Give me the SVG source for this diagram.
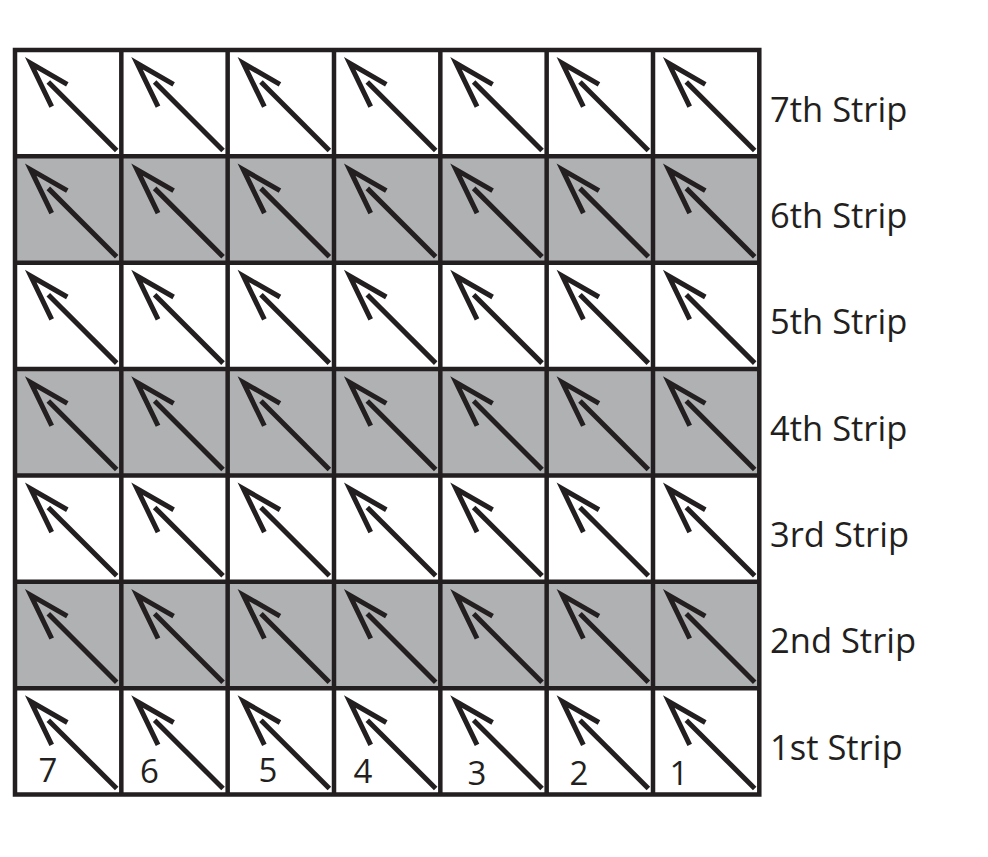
<svg xmlns="http://www.w3.org/2000/svg" xmlns:xlink="http://www.w3.org/1999/xlink" width="988" height="857" viewBox="0 0 988 857">
<style>
.bg{fill:#ffffff}
.gray{fill:#b0b1b3}
.grid{fill:none;stroke:#231f20;stroke-width:4.5}
.arr{fill:none;stroke:#231f20;stroke-width:5;stroke-linecap:butt;stroke-linejoin:miter}
.lbl{font-family:"Open Sans","Noto Sans",sans-serif;font-size:34.5px;fill:#231f20}
.num{font-family:"Open Sans","Noto Sans",sans-serif;font-size:33px;fill:#231f20;text-anchor:middle}
</style>
<defs>
<g id="arrow">
<path class="arr" d="M36.7,56.7 L15.7,13.3 L52.3,34.3"/>
<path class="arr" d="M33.3,32 L101.7,100.4"/>
</g>
</defs>
<rect class="bg" x="0" y="0" width="988" height="857"/>
<g id="fills">
<rect class="gray" x="15" y="156.4" width="744.3" height="106.4"/>
<rect class="gray" x="15" y="369.1" width="744.3" height="106.4"/>
<rect class="gray" x="15" y="581.8" width="744.3" height="106.4"/>
</g>
<g id="strip7">
<use xlink:href="#arrow" href="#arrow" x="15" y="50"/>
<use xlink:href="#arrow" href="#arrow" x="121.33" y="50"/>
<use xlink:href="#arrow" href="#arrow" x="227.66" y="50"/>
<use xlink:href="#arrow" href="#arrow" x="334" y="50"/>
<use xlink:href="#arrow" href="#arrow" x="440.33" y="50"/>
<use xlink:href="#arrow" href="#arrow" x="546.66" y="50"/>
<use xlink:href="#arrow" href="#arrow" x="653" y="50"/>
<text class="lbl" x="770" y="121.7">7th Strip</text>
</g>
<g id="strip6">
<use xlink:href="#arrow" href="#arrow" x="15" y="156.36"/>
<use xlink:href="#arrow" href="#arrow" x="121.33" y="156.36"/>
<use xlink:href="#arrow" href="#arrow" x="227.66" y="156.36"/>
<use xlink:href="#arrow" href="#arrow" x="334" y="156.36"/>
<use xlink:href="#arrow" href="#arrow" x="440.33" y="156.36"/>
<use xlink:href="#arrow" href="#arrow" x="546.66" y="156.36"/>
<use xlink:href="#arrow" href="#arrow" x="653" y="156.36"/>
<text class="lbl" x="770" y="228">6th Strip</text>
</g>
<g id="strip5">
<use xlink:href="#arrow" href="#arrow" x="15" y="262.72"/>
<use xlink:href="#arrow" href="#arrow" x="121.33" y="262.72"/>
<use xlink:href="#arrow" href="#arrow" x="227.66" y="262.72"/>
<use xlink:href="#arrow" href="#arrow" x="334" y="262.72"/>
<use xlink:href="#arrow" href="#arrow" x="440.33" y="262.72"/>
<use xlink:href="#arrow" href="#arrow" x="546.66" y="262.72"/>
<use xlink:href="#arrow" href="#arrow" x="653" y="262.72"/>
<text class="lbl" x="770" y="334.3">5th Strip</text>
</g>
<g id="strip4">
<use xlink:href="#arrow" href="#arrow" x="15" y="369.08"/>
<use xlink:href="#arrow" href="#arrow" x="121.33" y="369.08"/>
<use xlink:href="#arrow" href="#arrow" x="227.66" y="369.08"/>
<use xlink:href="#arrow" href="#arrow" x="334" y="369.08"/>
<use xlink:href="#arrow" href="#arrow" x="440.33" y="369.08"/>
<use xlink:href="#arrow" href="#arrow" x="546.66" y="369.08"/>
<use xlink:href="#arrow" href="#arrow" x="653" y="369.08"/>
<text class="lbl" x="770" y="440.6">4th Strip</text>
</g>
<g id="strip3">
<use xlink:href="#arrow" href="#arrow" x="15" y="475.44"/>
<use xlink:href="#arrow" href="#arrow" x="121.33" y="475.44"/>
<use xlink:href="#arrow" href="#arrow" x="227.66" y="475.44"/>
<use xlink:href="#arrow" href="#arrow" x="334" y="475.44"/>
<use xlink:href="#arrow" href="#arrow" x="440.33" y="475.44"/>
<use xlink:href="#arrow" href="#arrow" x="546.66" y="475.44"/>
<use xlink:href="#arrow" href="#arrow" x="653" y="475.44"/>
<text class="lbl" x="770" y="547">3rd Strip</text>
</g>
<g id="strip2">
<use xlink:href="#arrow" href="#arrow" x="15" y="581.8"/>
<use xlink:href="#arrow" href="#arrow" x="121.33" y="581.8"/>
<use xlink:href="#arrow" href="#arrow" x="227.66" y="581.8"/>
<use xlink:href="#arrow" href="#arrow" x="334" y="581.8"/>
<use xlink:href="#arrow" href="#arrow" x="440.33" y="581.8"/>
<use xlink:href="#arrow" href="#arrow" x="546.66" y="581.8"/>
<use xlink:href="#arrow" href="#arrow" x="653" y="581.8"/>
<text class="lbl" x="770" y="653.2">2nd Strip</text>
</g>
<g id="strip1">
<use xlink:href="#arrow" href="#arrow" x="15" y="688.16"/>
<use xlink:href="#arrow" href="#arrow" x="121.33" y="688.16"/>
<use xlink:href="#arrow" href="#arrow" x="227.66" y="688.16"/>
<use xlink:href="#arrow" href="#arrow" x="334" y="688.16"/>
<use xlink:href="#arrow" href="#arrow" x="440.33" y="688.16"/>
<use xlink:href="#arrow" href="#arrow" x="546.66" y="688.16"/>
<use xlink:href="#arrow" href="#arrow" x="653" y="688.16"/>
<text class="lbl" x="770" y="759.5">1st Strip</text>
<text class="num" x="48" y="782">7</text>
<text class="num" x="149.5" y="782.5">6</text>
<text class="num" x="268" y="782">5</text>
<text class="num" x="363" y="783">4</text>
<text class="num" x="477" y="785">3</text>
<text class="num" x="579" y="785">2</text>
<text class="num" x="679" y="785">1</text>
</g>
<g id="connectors">
<path class="grid" d="M15,50 H759.3 V794.5 H15 Z M121.33,50 V794.5 M227.66,50 V794.5 M334,50 V794.5 M440.33,50 V794.5 M546.66,50 V794.5 M653,50 V794.5 M15,156.36 H759.3 M15,262.72 H759.3 M15,369.08 H759.3 M15,475.44 H759.3 M15,581.8 H759.3 M15,688.16 H759.3"/>
</g>
</svg>
